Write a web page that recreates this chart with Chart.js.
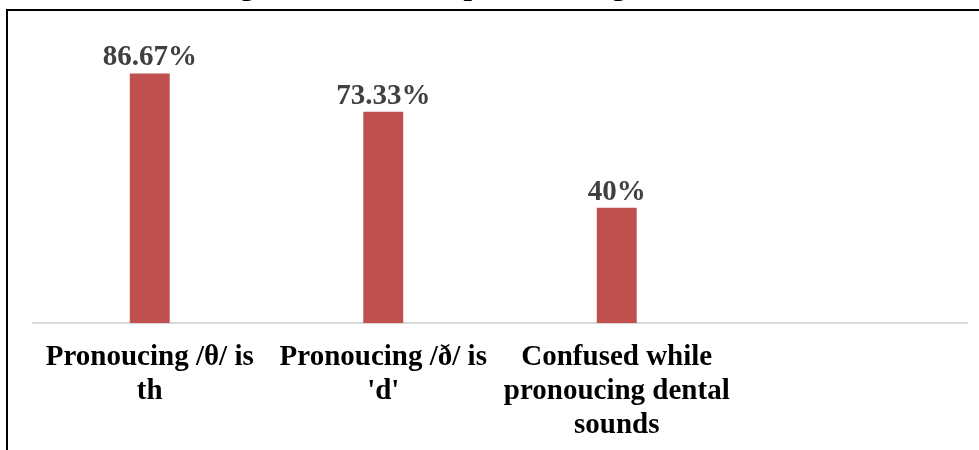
<!DOCTYPE html>
<html>
<head>
<meta charset="utf-8">
<script src="https://cdn.jsdelivr.net/npm/chart.js@4/dist/chart.umd.min.js"></script>
<style>
  html, body { margin: 0; padding: 0; background: #fff; overflow: hidden; }
  body { width: 979px; height: 450px; position: relative; }
  #caption {
    position: absolute; left: 213px; top: -30px;
    font: bold 30px "Liberation Serif", "Times New Roman", serif;
    line-height: 30px; white-space: nowrap; color: #000;
  }
  #frame {
    position: absolute; left: 6px; top: 9px; width: 979px; height: 460px;
    border-top: 2px solid #000; border-left: 2px solid #000;
  }
  #wrap { position: absolute; left: 0; top: 0; width: 979px; height: 450px; }
</style>
</head>
<body>
<div id="caption">Figure 2: Errors in pronouncing dental sounds</div>
<div id="frame"></div>
<div id="wrap"><canvas id="chart" width="979" height="450"></canvas></div>
<script>
// data
const categories = [
  ["Pronoucing /θ/ is", "th"],
  ["Pronoucing /ð/ is", "'d'"],
  ["Confused while", "pronoucing dental", "sounds"],
  ""
];
const values = [86.67, 73.33, 40, null];
const valueLabels = ["86.67%", "73.33%", "40%", ""];

// value labels above the bars
const barLabels = {
  id: "barLabels",
  afterDatasetsDraw(chart) {
    const ctx = chart.ctx;
    const meta = chart.getDatasetMeta(0);
    ctx.save();
    ctx.font = "bold 29px 'Liberation Serif', serif";
    ctx.fillStyle = "#404040";
    ctx.textAlign = "center";
    ctx.textBaseline = "alphabetic";
    meta.data.forEach((bar, i) => {
      if (values[i] == null) return;
      ctx.fillText(valueLabels[i], bar.x, bar.y - 8);
    });
    ctx.restore();
  }
};

new Chart(document.getElementById("chart"), {
  type: "bar",
  data: {
    labels: categories,
    datasets: [{
      data: values,
      backgroundColor: "#c0504d",
      barPercentage: 0.171,
      categoryPercentage: 1
    }]
  },
  options: {
    responsive: false,
    animation: false,
    layout: { padding: { left: 33, right: 12, top: 35, bottom: 0 } },
    plugins: { legend: { display: false }, tooltip: { enabled: false } },
    scales: {
      x: {
        grid: { display: false, drawTicks: false },
        border: { display: true, color: "#d9d9d9", width: 2 },
        ticks: {
          color: "#000",
          maxRotation: 0,
          autoSkip: false,
          padding: 18,
          font: { family: "'Liberation Serif', serif", size: 29, weight: "bold", lineHeight: 1.17 }
        },
        afterFit(scale) { scale.height = 127; }
      },
      y: {
        display: false,
        min: 0,
        max: 100
      }
    }
  },
  plugins: [barLabels]
});
</script>
</body>
</html>
